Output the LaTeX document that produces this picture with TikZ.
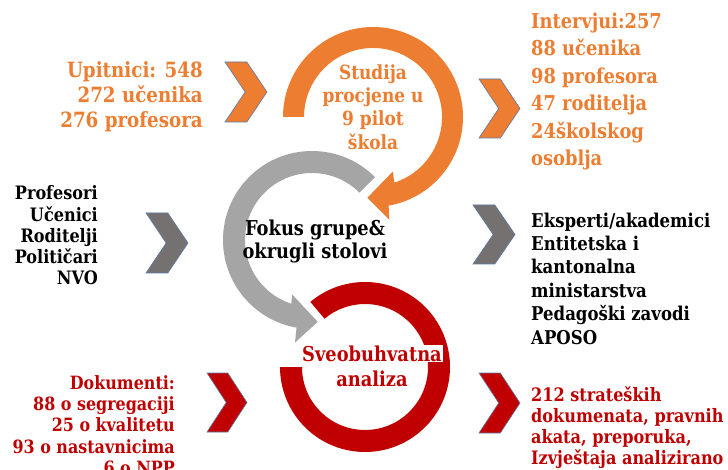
\documentclass[tikz,border=0pt]{standalone}
\usepackage{fontspec}
\newfontfamily\cf{DejaVu Serif}[FakeStretch=0.87]
\usetikzlibrary{calc}
\definecolor{org}{HTML}{ED7D31}
\definecolor{gry}{HTML}{A5A5A5}
\definecolor{dgry}{HTML}{767171}
\definecolor{rd}{HTML}{C00000}
\definecolor{edgeb}{HTML}{5B7BA6}
\newcommand\fs[2]{\cf\bfseries\fontsize{#1}{#2}\selectfont}
\newcommand\mychev[5]{%
  \filldraw[fill=#5, draw=edgeb, line width=0.6pt, line join=miter]
  (#1,-#2) -- ({#1+0.52*(#3-#1)},-#2) -- (#3,{-(#2+#4)/2}) -- ({#1+0.52*(#3-#1)},-#4)
  -- (#1,-#4) -- ({#1+0.48*(#3-#1)},{-(#2+#4)/2}) -- cycle;}
\newcommand\halo[1]{{\setlength{\fboxsep}{1pt}\colorbox{white}{#1}}}
\tikzset{txt/.style={inner sep=0pt}}
\begin{document}
\begin{tikzpicture}[x=1pt,y=1pt]
\clip (0,0) rectangle (728,-470);
\fill[white] (0,0) rectangle (728,-470);
% rings
\coordinate (O3) at (365,-367);
\fill[rd] ($(O3)+(130:85)$) arc[start angle=130,end angle=-180,radius=85]
  -- ($(O3)+(180:63)$) arc[start angle=-180,end angle=130,radius=63] -- cycle;
\coordinate (O2) at (312,-240);
\fill[gry] ($(O2)+(45:89)$) arc[start angle=45,end angle=260,radius=89]
  -- ($(O2)+(260.6:104)$) -- ($(O2)+(274:82)$) -- ($(O2)+(250:58)$)
  -- ($(O2)+(252:67)$) arc[start angle=252,end angle=45,radius=67] -- cycle;
\coordinate (O1) at (373,-117);
\fill[org] ($(O1)+(180:90)$) arc[start angle=180,end angle=-80,radius=90]
  -- ($(O1)+(-81:104)$) -- ($(O1)+(-94:81)$) -- ($(O1)+(-70:58)$)
  -- ($(O1)+(-72:69)$) arc[start angle=-72,end angle=180,radius=69] -- cycle;
% chevrons
\mychev{225}{62}{267}{122}{org}
\mychev{479}{79}{520}{138}{org}
\mychev{146}{213}{188}{273}{dgry}
\mychev{473}{205}{515}{264}{dgry}
\mychev{207}{373}{247}{432}{rd}
\mychev{479}{373}{520}{433}{rd}
% texts
\node[txt, text=org, anchor=east, align=right, font={\fs{21}{25}}] (upit) at (203,-97)
  {Upitnici: 548\\272 učenika\\276 profesora};
\node[txt, text=org, anchor=west, align=left, font={\fs{20.5}{27.4}}] (interv) at (531,-91.5)
  {Intervjui:257\\88 učenika\\98 profesora\\47 roditelja\\24školskog\\osoblja};
\node[txt, text=org, align=center, font={\fs{19.5}{23.3}}] (studija) at (373,-107)
  {Studija\\procjene u\\9 pilot\\škola};
\node[txt, text=black, anchor=east, align=right, font={\fs{18.5}{21.3}}] (grupe) at (98,-235.5)
  {Profesori\\Učenici\\Roditelji\\Političari\\NVO};
\node[txt, text=black, align=center, font={\fs{20.5}{23}}] (fokus) at (315,-241.5)
  {Fokus grupe\&\\okrugli stolovi};
\node[txt, text=black, anchor=west, align=left, font={\fs{19}{23.4}}] (eksp) at (531,-278.5)
  {Eksperti/akademici\\Entitetska i\\kantonalna\\ministarstva\\Pedagoški zavodi\\APOSO};
\node[txt, text=rd, align=center, font={\fs{20.5}{25}}] (sveo) at (372,-365.5)
  {\halo{Sveobuhvatna}\\analiza};
\node[txt, text=rd, anchor=east, align=right, font={\fs{18.3}{21.3}}] (dok) at (175,-425)
  {Dokumenti:\\88 o  segregaciji\\25 o kvalitetu\\93 o nastavnicima\\6 o NPP};
\node[txt, text=rd, anchor=west, align=left, font={\fs{18.5}{21}}] (strat) at (531,-428)
  {212 strateških\\dokumenata, pravnih\\akata, preporuka,\\Izvještaja analizirano};
\end{tikzpicture}
\end{document}
